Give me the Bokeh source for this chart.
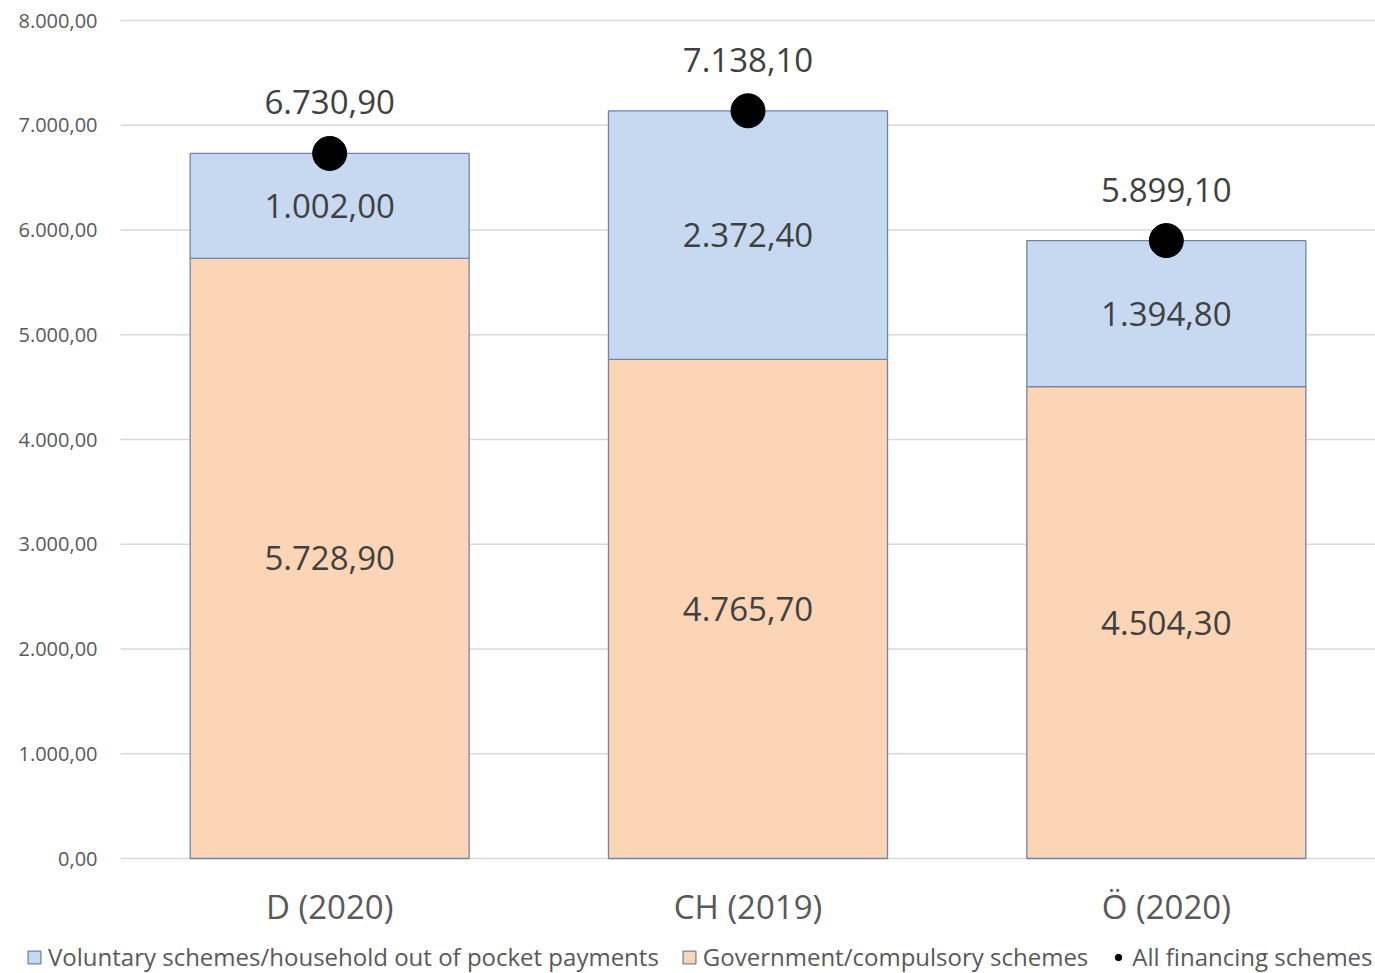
from bokeh.plotting import figure
from bokeh.models import ColumnDataSource, Range1d, Legend, LegendItem
from bokeh.core.properties import value
from bokeh.embed import file_html
from bokeh.resources import INLINE

# Health expenditure per capita by financing scheme
countries = ["D (2020)", "CH (2019)", "Ö (2020)"]
government = [5728.90, 4765.70, 4504.30]
voluntary = [1002.00, 2372.40, 1394.80]
total = [6730.90, 7138.10, 5899.10]
y_ticks = [0, 1000, 2000, 3000, 4000, 5000, 6000, 7000, 8000]
series_names = ["Voluntary schemes/household out of pocket payments",
                "Government/compulsory schemes",
                "All financing schemes"]


def de_fmt(v):
    s = f"{v:,.2f}"
    return s.replace(",", "X").replace(".", ",").replace("X", ".")


FONT = "Open Sans"
BLUE = "#c6d9f1"
ORANGE = "#fbd5b5"
EDGE = "#7185a8"
GREY_TXT = "#595959"
DARK_TXT = "#404040"

# canvas geometry (pixels): plot band from x=120 to the right edge,
# value axis from y=858 (0) up to y=20 (8000)
W, H = 1375, 973
LEFT, TOP, BASE = 120, 20, 858
SLOT = (W - LEFT) / len(countries)          # pixels per category
Y_MAX = y_ticks[-1]
UPP = Y_MAX / (BASE - TOP)                   # value units per pixel

x_start = -(LEFT + SLOT / 2) / SLOT
x_end = x_start + W / SLOT
y_start = -(H - BASE) * UPP
y_end = Y_MAX + TOP * UPP

idx = list(range(len(countries)))
src = ColumnDataSource(dict(
    x=idx, cat=countries, total=total,
    base=[0] * len(countries), top_gov=government,
    top_all=[g + v for g, v in zip(government, voluntary)],
    gov_mid=[g / 2 for g in government],
    vol_mid=[g + v / 2 for g, v in zip(government, voluntary)],
    gov_lbl=[de_fmt(v) for v in government],
    vol_lbl=[de_fmt(v) for v in voluntary],
    tot_lbl=[de_fmt(v) for v in total],
    zero=[0] * len(countries),
))

p = figure(width=W, height=H, output_backend="svg", toolbar_location=None,
           x_range=Range1d(x_start, x_end), y_range=Range1d(y_start, y_end),
           min_border=0, background_fill_color="white",
           border_fill_color="white")
p.outline_line_color = None
p.axis.visible = False
p.grid.visible = False

# horizontal gridlines and value labels
grid_src = ColumnDataSource(dict(
    y=y_ticks, lbl=[de_fmt(t) for t in y_ticks],
    x0=[x_start + LEFT / SLOT] * len(y_ticks), x1=[x_end] * len(y_ticks),
    xl=[x_start] * len(y_ticks),
))
p.segment(x0="x0", y0="y", x1="x1", y1="y", source=grid_src,
          line_color="#d9d9d9", line_width=1.5)
p.text(x="xl", y="y", text="lbl", source=grid_src, x_offset=97,
       text_align="right", text_baseline="middle", text_font=value(FONT),
       text_font_size="20px", text_color=GREY_TXT)

# stacked bars and the total markers
gov_r = p.vbar(x="x", bottom="base", top="top_gov", width=0.667, source=src,
               fill_color=ORANGE, line_color=EDGE, line_width=1.3)
vol_r = p.vbar(x="x", bottom="top_gov", top="top_all", width=0.667, source=src,
               fill_color=BLUE, line_color=EDGE, line_width=1.3)
tot_r = p.scatter(x="x", y="total", source=src, size=34, color="black")

LBL = "33px"
p.text(x="x", y="gov_mid", text="gov_lbl", source=src, text_align="center",
       text_baseline="middle", text_font=value(FONT), text_font_size=LBL,
       text_color=DARK_TXT)
p.text(x="x", y="vol_mid", text="vol_lbl", source=src, text_align="center",
       text_baseline="middle", text_font=value(FONT), text_font_size=LBL,
       text_color=DARK_TXT)
p.text(x="x", y="total", text="tot_lbl", source=src, text_align="center",
       text_baseline="middle", y_offset=-51, text_font=value(FONT),
       text_font_size=LBL, text_color=DARK_TXT)

# category labels under the bars
p.text(x="x", y="zero", text="cat", source=src, text_align="center",
       text_baseline="middle", y_offset=48, text_font=value(FONT),
       text_font_size=LBL, text_color=GREY_TXT)

legend = Legend(items=[
    LegendItem(label=series_names[0], renderers=[vol_r]),
    LegendItem(label=series_names[1], renderers=[gov_r]),
    LegendItem(label=series_names[2], renderers=[tot_r]),
], orientation="horizontal", location=(26, 0), background_fill_alpha=0,
    border_line_color=None, padding=0, margin=0, spacing=22,
    glyph_width=16, glyph_height=16, label_standoff=6,
    label_text_font=FONT, label_text_font_size="24px",
    label_text_color=GREY_TXT)
p.add_layout(legend)

open("out.html", "w").write(file_html(p, INLINE))
